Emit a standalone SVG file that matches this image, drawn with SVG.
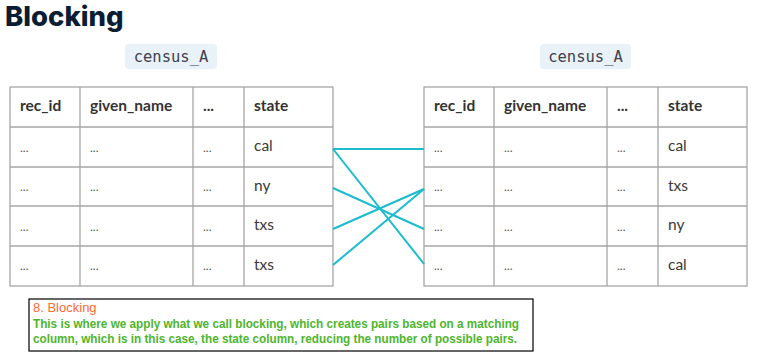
<svg xmlns="http://www.w3.org/2000/svg" width="761" height="360" viewBox="0 0 761 360">
  <style>
    .title { font-family: Inter, "Open Sans", sans-serif; font-weight: 800; font-size: 27.5px; fill: #0b1d33; }
    .tag { fill: #e9f2f9; }
    .tagtext { font-family: "DejaVu Sans Mono", "Liberation Mono", monospace; font-size: 15.5px; fill: #40404f; text-anchor: middle; }
    .grid { fill: #ffffff; stroke: #a6a6a6; stroke-width: 1.3; }
    .hdr { font-family: Lato, "Open Sans", sans-serif; font-weight: 700; font-size: 15.5px; fill: #333333; }
    .cell { font-family: Lato, "Open Sans", sans-serif; font-size: 15.5px; fill: #3a3a3a; }
    .dots { font-family: Lato, "Open Sans", sans-serif; font-size: 12px; fill: #555555; }
    .link { stroke: #1bbccd; stroke-width: 2; fill: none; }
    .note { fill: #ffffff; stroke: #000000; stroke-width: 1.2; }
    .notehead { font-family: "Liberation Sans", Arial, sans-serif; font-size: 13px; fill: #ff6a33; }
    .notebody { font-family: "Liberation Sans", Arial, sans-serif; font-weight: 700; font-size: 13px; fill: #4db52e; }
  </style>

  <text class="title" x="5" y="26">Blocking</text>

  <!-- left table -->
  <g id="table-left">
    <rect class="tag" x="125" y="44" width="92" height="25" rx="4"/>
    <text class="tagtext" x="171" y="62">census_A</text>
    <rect class="grid" x="10" y="87" width="323" height="199"/>
    <path class="grid" d="M10 127H333M10 167H333M10 206H333M10 246H333M80 87V286M193 87V286M244 87V286"/>
    <text class="hdr" x="20" y="111">rec_id</text>
    <text class="hdr" x="90" y="111">given_name</text>
    <text class="hdr" x="203" y="111">...</text>
    <text class="hdr" x="254" y="111">state</text>
    <g class="dots">
      <text x="20" y="152">...</text><text x="90" y="152">...</text><text x="203" y="152">...</text>
      <text x="20" y="191">...</text><text x="90" y="191">...</text><text x="203" y="191">...</text>
      <text x="20" y="231">...</text><text x="90" y="231">...</text><text x="203" y="231">...</text>
      <text x="20" y="270">...</text><text x="90" y="270">...</text><text x="203" y="270">...</text>
    </g>
    <text class="cell" x="254" y="151">cal</text>
    <text class="cell" x="254" y="191">ny</text>
    <text class="cell" x="254" y="230">txs</text>
    <text class="cell" x="254" y="270">txs</text>
  </g>

  <!-- right table -->
  <g id="table-right">
    <rect class="tag" x="540" y="44" width="91" height="25" rx="4"/>
    <text class="tagtext" x="585.5" y="62">census_A</text>
    <rect class="grid" x="424" y="87" width="323" height="199"/>
    <path class="grid" d="M424 127H747M424 167H747M424 206H747M424 246H747M494 87V286M607 87V286M658 87V286"/>
    <text class="hdr" x="434" y="111">rec_id</text>
    <text class="hdr" x="504" y="111">given_name</text>
    <text class="hdr" x="617" y="111">...</text>
    <text class="hdr" x="668" y="111">state</text>
    <g class="dots">
      <text x="434" y="152">...</text><text x="504" y="152">...</text><text x="617" y="152">...</text>
      <text x="434" y="191">...</text><text x="504" y="191">...</text><text x="617" y="191">...</text>
      <text x="434" y="231">...</text><text x="504" y="231">...</text><text x="617" y="231">...</text>
      <text x="434" y="270">...</text><text x="504" y="270">...</text><text x="617" y="270">...</text>
    </g>
    <text class="cell" x="668" y="151">cal</text>
    <text class="cell" x="668" y="191">txs</text>
    <text class="cell" x="668" y="230">ny</text>
    <text class="cell" x="668" y="270">cal</text>
  </g>

  <!-- pairs by state -->
  <g id="connectors">
    <line class="link" x1="333" y1="149" x2="424" y2="149"/>
    <line class="link" x1="333" y1="149" x2="424" y2="264"/>
    <line class="link" x1="333" y1="188" x2="424" y2="229"/>
    <line class="link" x1="333" y1="229" x2="424" y2="189"/>
    <line class="link" x1="333" y1="265" x2="424" y2="189"/>
  </g>

  <!-- caption -->
  <g id="note">
    <rect class="note" x="29" y="299" width="504" height="52"/>
    <text class="notehead" x="33" y="312">8. Blocking</text>
    <text class="notebody" x="33" y="327.5" textLength="486" lengthAdjust="spacingAndGlyphs">This is where we apply what we call blocking, which creates pairs based on a matching</text>
    <text class="notebody" x="33" y="342.5" textLength="484" lengthAdjust="spacingAndGlyphs">column, which is in this case, the state column, reducing the number of possible pairs.</text>
  </g>
</svg>
